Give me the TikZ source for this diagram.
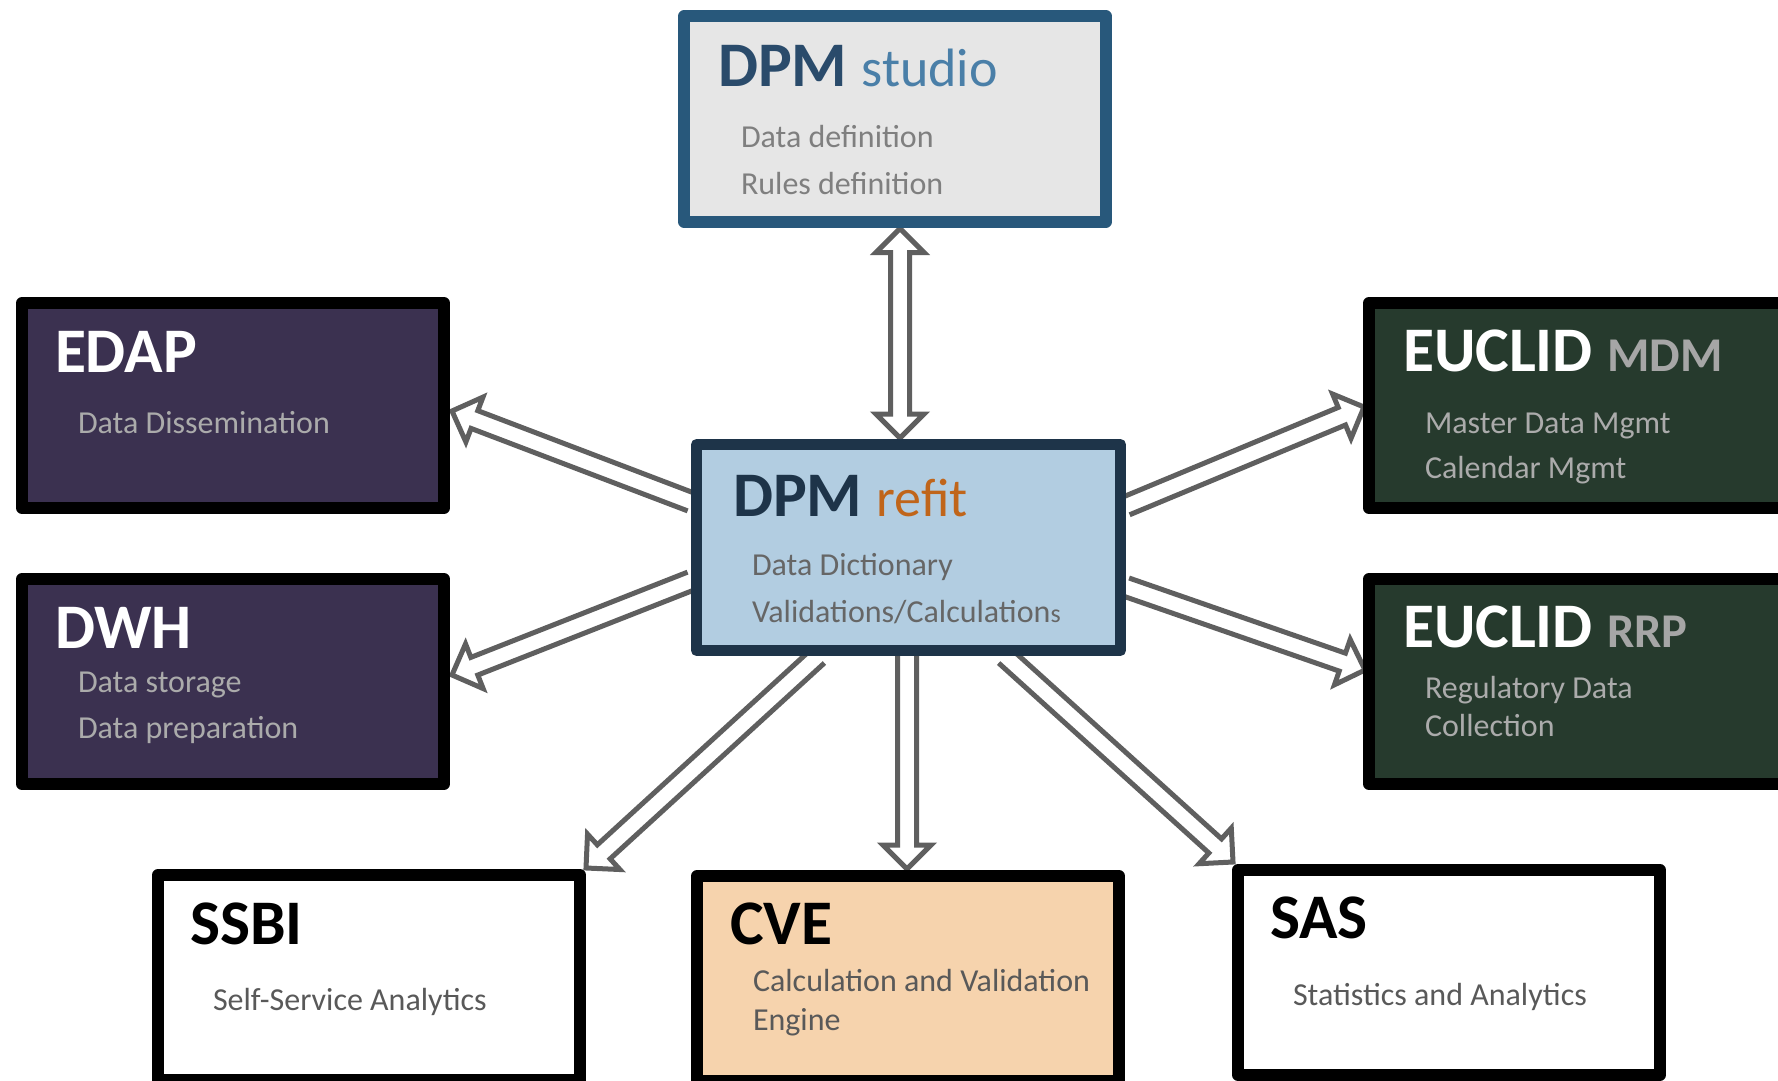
\documentclass[tikz,border=0pt]{standalone}
\usepackage{fontspec}
\setmainfont{Carlito}
\usetikzlibrary{calc,backgrounds}
\definecolor{studioborder}{HTML}{28587B}
\definecolor{studiofill}{HTML}{E6E6E6}
\definecolor{studiodpm}{HTML}{2A4B6B}
\definecolor{studioword}{HTML}{4A7FA8}
\definecolor{refitborder}{HTML}{1E3449}
\definecolor{refitfill}{HTML}{B2CDE1}
\definecolor{refitword}{HTML}{C0651A}
\definecolor{purplefill}{HTML}{3B3150}
\definecolor{greenfill}{HTML}{263A2D}
\definecolor{cvefill}{HTML}{F6D3AD}
\definecolor{lightsub}{HTML}{ABABAB}
\definecolor{graysub}{HTML}{7F7F7F}
\definecolor{midsub}{HTML}{666666}
\definecolor{darksub}{HTML}{595959}
\definecolor{suffixgray}{HTML}{A6A6A6}
\definecolor{arrowgray}{HTML}{5F5F5F}
\newcommand\hollowarrow[2]{%
  \coordinate (ha) at ($(#2)!24pt!(#1)$);
  \draw[arr] ($(#1)!9.5pt!90:(#2)$) -- ($(ha)!9.5pt!90:(#2)$) -- ($(ha)!24pt!90:(#2)$) -- (#2)
    -- ($(ha)!24pt!-90:(#2)$) -- ($(ha)!9.5pt!-90:(#2)$) -- ($(#1)!9.5pt!-90:(#2)$);
}
\newcommand\doublehollowarrow[2]{%
  \coordinate (ha) at ($(#2)!24pt!(#1)$);
  \coordinate (hb) at ($(#1)!24pt!(#2)$);
  \draw[arr] (#1) -- ($(hb)!24pt!-90:(#1)$) -- ($(hb)!9.5pt!-90:(#1)$) -- ($(ha)!9.5pt!90:(#2)$) -- ($(ha)!24pt!90:(#2)$) -- (#2)
    -- ($(ha)!24pt!-90:(#2)$) -- ($(ha)!9.5pt!-90:(#2)$) -- ($(hb)!9.5pt!90:(#1)$) -- ($(hb)!24pt!90:(#1)$) -- cycle;
}
\begin{document}
\begin{tikzpicture}[x=1pt,y=-1pt,
  box/.style={rectangle, line width=12pt, line join=round, inner sep=0pt, outer sep=6pt,
    minimum width=422pt, minimum height=205pt},
  txt/.style={anchor=base west, inner sep=0pt, outer sep=0pt},
  ttl/.style={txt, font=\fontsize{63.5}{72}\selectfont\bfseries},
  sub/.style={txt, font=\fontsize{32}{38}\selectfont},
  arr/.style={draw=arrowgray, line width=5pt, fill=white}]
\useasboundingbox (0,0) rectangle (1778,1081);
% boxes
\node[box, draw=studioborder, fill=studiofill] (studio) at (895,119) {};
\node[box, draw=refitborder, fill=refitfill, line width=11pt, outer sep=5.5pt, minimum width=424pt, minimum height=206pt] (refit) at (908.5,547.5) {};
\node[box, draw=black, fill=purplefill] (edap) at (233,405.5) {};
\node[box, draw=black, fill=purplefill] (dwh) at (233,681.5) {};
\node[box, draw=black, fill=greenfill] (mdm) at (1580,405.5) {};
\node[box, draw=black, fill=greenfill] (rrp) at (1580,681.5) {};
\node[box, draw=black, fill=white] (ssbi) at (369,977.5) {};
\node[box, draw=black, fill=cvefill] (cve) at (908,978.5) {};
\node[box, draw=black, fill=white] (sas) at (1449,972.5) {};
% texts
\node[ttl, text=studiodpm] (studioT) at (718,87) {DPM {\fontsize{54}{62}\selectfont\mdseries\color{studioword}studio}};
\node[sub, text=graysub] (studioA) at (741,147) {Data definition};
\node[sub, text=graysub] (studioB) at (741,194) {Rules definition};
\node[ttl, text=refitborder] (refitT) at (733,516) {DPM {\fontsize{54}{62}\selectfont\mdseries\color{refitword}refit}};
\node[sub, text=midsub] (refitA) at (752,575) {Data Dictionary};
\node[sub, text=midsub] (refitB) at (752,622) {Validations/Calculation{\fontsize{26}{30}\selectfont s}};
\node[ttl, text=white] (edapT) at (55,372) {EDAP};
\node[sub, text=lightsub] (edapA) at (78,433) {Data Dissemination};
\node[ttl, text=white] (dwhT) at (55,648) {DWH};
\node[sub, text=lightsub] (dwhA) at (78,692) {Data storage};
\node[sub, text=lightsub] (dwhB) at (78,738) {Data preparation};
\node[ttl, text=white] (mdmT) at (1403,371) {EUCLID {\fontsize{48.5}{56}\selectfont\color{suffixgray}MDM}};
\node[sub, text=lightsub] (mdmA) at (1425,433) {Master Data Mgmt};
\node[sub, text=lightsub] (mdmB) at (1425,478) {Calendar Mgmt};
\node[ttl, text=white] (rrpT) at (1403,647) {EUCLID {\fontsize{48.5}{56}\selectfont\color{suffixgray}RRP}};
\node[sub, text=lightsub] (rrpA) at (1425,698) {Regulatory Data};
\node[sub, text=lightsub] (rrpB) at (1425,736) {Collection};
\node[ttl, text=black] (ssbiT) at (190,944) {SSBI};
\node[sub, text=darksub] (ssbiA) at (213,1010) {Self-Service Analytics};
\node[ttl, text=black] (cveT) at (730,944) {CVE};
\node[sub, text=darksub] (cveA) at (753,991) {Calculation and Validation};
\node[sub, text=darksub] (cveB) at (753,1030) {Engine};
\node[ttl, text=black] (sasT) at (1270,938) {SAS};
\node[sub, text=darksub] (sasA) at (1293,1005) {Statistics and Analytics};
% connector end points
\coordinate (e1a) at ($(refit.west)+(0,-45.5)$);
\coordinate (e1b) at ($(edap.east)+(2,5.5)$);
\coordinate (e2a) at ($(refit.west)+(0,33.5)$);
\coordinate (e2b) at ($(dwh.east)+(2,-6.5)$);
\coordinate (e3a) at ($(refit.east)+(0,-41.5)$);
\coordinate (e3b) at ($(mdm.west)+(1,1.5)$);
\coordinate (e4a) at ($(refit.east)+(0,39.5)$);
\coordinate (e4b) at ($(rrp.west)+(2,-11.5)$);
\coordinate (e5a) at ($(refit.south)+(-90.5,0)$);
\coordinate (e5b) at ($(ssbi.north east)+(0,-1)$);
\coordinate (e6a) at ($(refit.south)+(-1.5,0)$);
\coordinate (e6b) at ($(cve.north)+(-1,-1)$);
\coordinate (e7a) at ($(refit.south)+(96.5,0)$);
\coordinate (e7b) at ($(sas.north west)+(1,-2)$);
\coordinate (e8a) at ($(studio.south)+(5,1)$);
\coordinate (e8b) at ($(refit.north)+(-8.5,-1)$);
\begin{scope}[on background layer]
\hollowarrow{e1a}{e1b}
\hollowarrow{e2a}{e2b}
\hollowarrow{e3a}{e3b}
\hollowarrow{e4a}{e4b}
\hollowarrow{e5a}{e5b}
\hollowarrow{e6a}{e6b}
\hollowarrow{e7a}{e7b}
\doublehollowarrow{e8a}{e8b}
\end{scope}
\end{tikzpicture}
\end{document}
